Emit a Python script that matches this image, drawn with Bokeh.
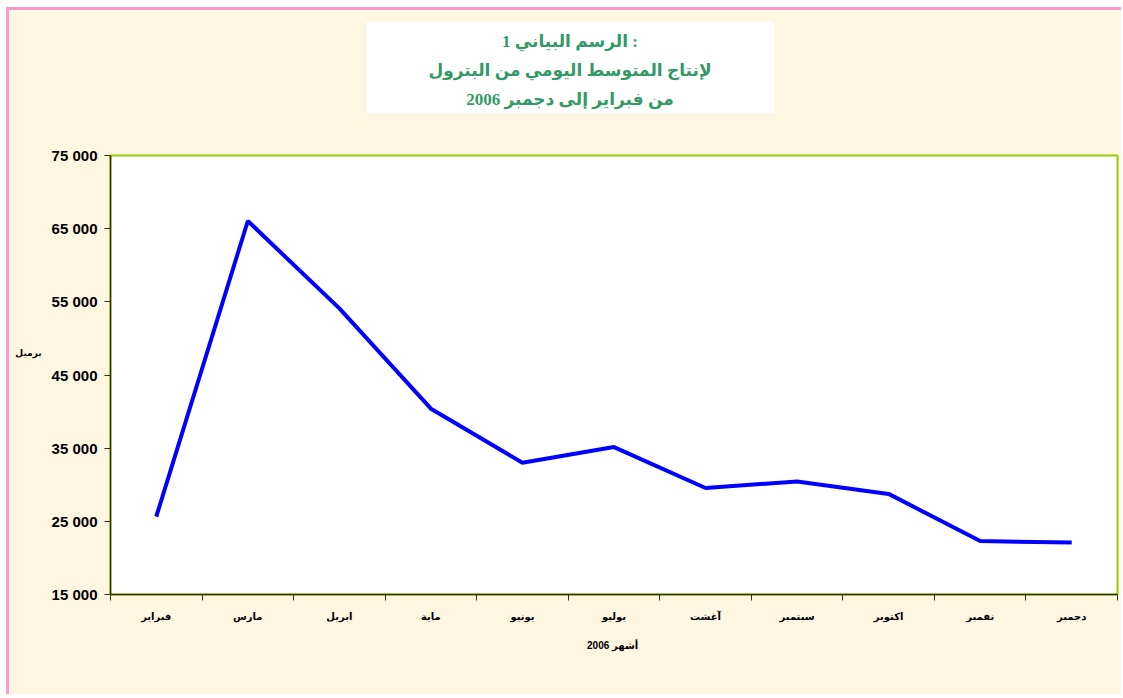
from bokeh.plotting import figure
from bokeh.models import Range1d, FixedTicker, Label
from bokeh.embed import file_html
from bokeh.resources import INLINE

months = ["فبراير", "مارس", "ابريل", "ماية", "يونيو", "يوليو", "آغشت", "سبتمبر", "اكتوبر", "نفمبر", "دجمبر"]
production = [25650, 66050, 54100, 40400, 33000, 35150, 29550, 30450, 28750, 22300, 22100]
y_ticks = [15000, 25000, 35000, 45000, 55000, 65000, 75000]
title_lines = ["الرسم البياني 1 :", "لإنتاج المتوسط اليومي من البترول", "من فبراير إلى دجمبر 2006"]
y_label = "برميل"
x_label = "أشهر  2006"

FONT = "'Liberation Sans', 'DejaVu Sans', sans-serif"
SERIF = "'Liberation Serif', 'DejaVu Sans', serif"
CREAM = "#FDF6E0"

xs = list(range(1, len(months) + 1))

p = figure(
    output_backend="svg", toolbar_location=None,
    frame_width=1007, frame_height=439,
    min_border_left=101, min_border_right=4, min_border_top=145, min_border_bottom=100,
    x_range=Range1d(0.5, len(months) + 0.5), y_range=Range1d(15000, 75000),
    background_fill_color="white", border_fill_color=CREAM,
)
p.styles = {"margin-left": "6px", "margin-top": "7px",
            "border-left": "3px solid #FF99CC", "border-top": "3px solid #FF99CC"}

p.outline_line_color = "#99CC00"
p.outline_line_width = 2
p.grid.visible = False

p.line(xs, production, line_color="#0000FF", line_width=4)

# x axis: labels at category centres, tick marks between categories
xa = p.xaxis[0]
xa.ticker = FixedTicker(ticks=xs, minor_ticks=[x - 0.5 for x in xs] + [len(xs) + 0.5])
xa.major_label_overrides = {x: m for x, m in zip(xs, months)}
xa.major_tick_out = 0
xa.major_tick_in = 0
xa.minor_tick_out = 6
xa.minor_tick_in = 0
xa.minor_tick_line_color = "#333300"
xa.axis_line_color = "#333300"
xa.axis_line_width = 1.5
xa.major_label_standoff = 10
xa.major_label_text_font = FONT
xa.major_label_text_font_style = "bold"
xa.major_label_text_font_size = "10px"
xa.major_label_text_color = "black"
xa.axis_label = x_label
xa.axis_label_text_font = FONT
xa.axis_label_text_font_style = "bold"
xa.axis_label_text_font_size = "10px"
xa.axis_label_standoff = 15
xa.axis_label_text_color = "black"

ya = p.yaxis[0]
ya.ticker = FixedTicker(ticks=y_ticks, minor_ticks=[])
ya.major_label_overrides = {t: f"{t:,}".replace(",", " ") for t in y_ticks}
ya.major_tick_out = 6
ya.major_tick_in = 0
ya.major_tick_line_color = "#333300"
ya.axis_line_color = "#333300"
ya.axis_line_width = 1.5
ya.major_label_standoff = 7
ya.major_label_text_font = FONT
ya.major_label_text_font_style = "bold"
ya.major_label_text_font_size = "15px"
ya.major_label_text_color = "black"

# y-axis unit label (canvas coordinates, placed in the left side panel so it is not clipped)
p.add_layout(Label(x=16, y=339, x_units="canvas", y_units="canvas", text=y_label,
                   text_font=FONT, text_font_style="bold", text_font_size="9px",
                   text_align="center", text_baseline="middle", text_color="black"), "left")

# title in a white box (canvas coordinates, in the above side panel)
p.add_layout(Label(x=558, y=54, x_units="canvas", y_units="canvas", text="\n".join(title_lines),
                   text_font=SERIF, text_font_style="bold", text_font_size="17px",
                   text_line_height=1.54, text_align="center", text_baseline="middle",
                   text_color="#339966", background_fill_color="white",
                   padding=dict(left=62, right=63, top=10, bottom=4)), "above")

open("out.html", "w").write(file_html(p, INLINE))
